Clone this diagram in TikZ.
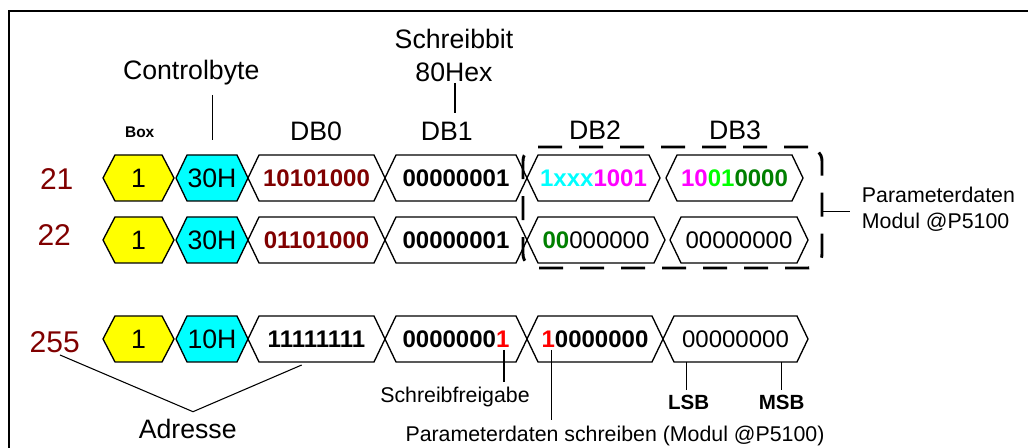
\documentclass[tikz,border=0pt]{standalone}
\usepackage{fontspec}
\setmainfont{Liberation Sans}
\definecolor{dred}{RGB}{128,0,0}
\definecolor{cyanc}{RGB}{0,255,255}
\definecolor{yellowc}{RGB}{255,255,0}
\definecolor{magc}{RGB}{255,0,255}
\definecolor{limec}{RGB}{0,255,0}
\definecolor{dgreen}{RGB}{0,128,0}
\definecolor{redc}{RGB}{255,0,0}
\newcommand\hexcell[7]{%
  \filldraw[hexline, fill=#6] (#2,#4) -- (#2+#5,#4-23) -- (#3-#5,#4-23) -- (#3,#4) -- (#3-#5,#4+23) -- (#2+#5,#4+23) -- cycle;
  \node[celltext, minimum width={(#3-#2)*0.75pt}] (#1) at ({(#2+#3)/2},#4) {#7};
}
\begin{document}
\begin{tikzpicture}[x=0.75pt,y=-0.75pt,
  hexline/.style={draw=black, line width=1pt, line join=miter},
  celltext/.style={inner sep=0pt, minimum height=34.5pt, font=\fontsize{18}{20}\selectfont},
  bigcell/.style={font=\fontsize{20}{24}\selectfont},
  bigtext/.style={inner sep=0pt, anchor=base, font=\fontsize{20}{24}\selectfont},
  rownum/.style={inner sep=0pt, anchor=base, text=dred, font=\fontsize{22.5}{26}\selectfont},
  smalltext/.style={inner sep=0pt, anchor=base, font=\fontsize{16}{19}\selectfont},
  boldsmall/.style={inner sep=0pt, anchor=base, font=\fontsize{15.4}{18}\selectfont\bfseries},
  boxtext/.style={inner sep=0pt, anchor=base, font=\fontsize{11.6}{14}\selectfont\bfseries},
  thinline/.style={draw=black, line width=0.8pt},
  dashbox/.style={draw=black, line width=2.2pt, dash pattern=on 18pt off 12.75pt, rounded corners=10.5pt, inner sep=0pt}
]
\useasboundingbox (0,0) rectangle (1028,448);
% frame
\draw[line width=1.5pt] (9,448) -- (9,10.7) -- (1028,10.7);

% header labels
\node[boxtext] (boxl) at (139.7,137.3) {Box};
\node[bigtext] (ctrl) at (191.2,79.3) {Controlbyte};
\node[bigtext] (db0) at (316,140.7) {DB0};
\node[bigtext] (db1) at (446.7,140.7) {DB1};
\node[bigtext] (db2) at (595,139.3) {DB2};
\node[bigtext] (db3) at (735,139.3) {DB3};
\node[bigtext] (schb) at (454,48.3) {Schreibbit};
\node[bigtext] (hex80) at (454,81.7) {80Hex};

% row numbers
\node[rownum] (r21) at (56.7,190) {21};
\node[rownum] (r22) at (54.2,246) {22};
\node[rownum] (r255) at (54.7,352.7) {255};

% row 21
\hexcell{y21}{103}{174}{178}{12}{yellowc}{\fontsize{20}{24}\selectfont 1}
\hexcell{c21}{176}{248}{178}{11}{cyanc}{\fontsize{20}{24}\selectfont 30H}
\hexcell{a21}{248}{385}{178}{11}{white}{\bfseries\color{dred}10101000}
\hexcell{b21}{385}{527}{178}{11}{white}{\bfseries 00000001}
\hexcell{d21}{527}{660}{178}{11}{white}{\bfseries\textcolor{cyanc}{1xxx}\textcolor{magc}{1001}}
\hexcell{e21}{666}{803}{178}{11}{white}{\bfseries\textcolor{magc}{10}\textcolor{limec}{01}\textcolor{dgreen}{0000}}

% row 22
\hexcell{y22}{103}{174}{240}{12}{yellowc}{\fontsize{20}{24}\selectfont 1}
\hexcell{c22}{176}{248}{240}{11}{cyanc}{\fontsize{20}{24}\selectfont 30H}
\hexcell{a22}{248}{385}{240}{11}{white}{\bfseries\color{dred}01101000}
\hexcell{b22}{385}{527}{240}{11}{white}{\bfseries 00000001}
\hexcell{d22}{527}{665}{240}{11}{white}{\textcolor{dgreen}{\bfseries 00}000000}
\hexcell{e22}{670}{808}{240}{11}{white}{00000000}

% row 255
\hexcell{y255}{103}{174}{339}{12}{yellowc}{\fontsize{20}{24}\selectfont 1}
\hexcell{c255}{176}{248}{339}{11}{cyanc}{\fontsize{20}{24}\selectfont 10H}
\hexcell{a255}{248}{385}{339}{11}{white}{\bfseries 11111111}
\hexcell{b255}{385}{527}{339}{11}{white}{\bfseries 0000000\textcolor{redc}{1}}
\hexcell{d255}{527}{663}{339}{11}{white}{\bfseries\textcolor{redc}{1}0000000}
\hexcell{e255}{663}{808}{339}{11}{white}{00000000}

% dashed parameter box
\node[dashbox, minimum width=224.25pt, minimum height=90.75pt] (pbox) at (672.5,207.5) {};
\coordinate (pdend) at (850,211.7);
\draw[thinline] (pbox.east |- pdend) -- (pdend);
\node[smalltext, anchor=base west] (pd1) at (861.7,202.7) {Parameterdaten};
\node[smalltext, anchor=base west] (pd2) at (861.7,229) {Modul @P5100};

% controlbyte / schreibbit pointers
\coordinate (cb1) at (212.7,95);
\coordinate (cb2) at (212.7,140);
\draw[thinline] (cb1) -- (cb2);
\coordinate (sb1) at (455,83);
\coordinate (sb2) at (455,113);
\draw[thinline] (sb1) -- (sb2);

% Adresse
\node[bigtext] (adr) at (187.7,438.3) {Adresse};
\coordinate (ad1) at (60,355);
\coordinate (ad2) at (193,411.7);
\coordinate (ad3) at (301.7,365);
\draw[thinline] (ad1) -- (ad2) -- (ad3);

% Schreibfreigabe
\node[smalltext] (sfg) at (455,402.7) {Schreibfreigabe};
\coordinate (sf1) at (504,350);
\coordinate (sf2) at (504,382);
\draw[thinline] (sf1) -- (sf2);

% Parameterdaten schreiben
\node[smalltext] (pds) at (615,441.7) {Parameterdaten schreiben (Modul @P5100)};
\coordinate (ps1) at (551.7,350);
\coordinate (ps2) at (551.7,420);
\draw[thinline] (ps1) -- (ps2);

% LSB / MSB
\node[boldsmall] (lsb) at (688.7,410) {LSB};
\node[boldsmall] (msb) at (781.7,410) {MSB};
\coordinate (ls1) at (686.7,362.5);
\coordinate (ls2) at (686.7,390);
\draw[thinline] (ls1) -- (ls2);
\coordinate (ms1) at (781.7,362.5);
\coordinate (ms2) at (781.7,390);
\draw[thinline] (ms1) -- (ms2);
\end{tikzpicture}
\end{document}
